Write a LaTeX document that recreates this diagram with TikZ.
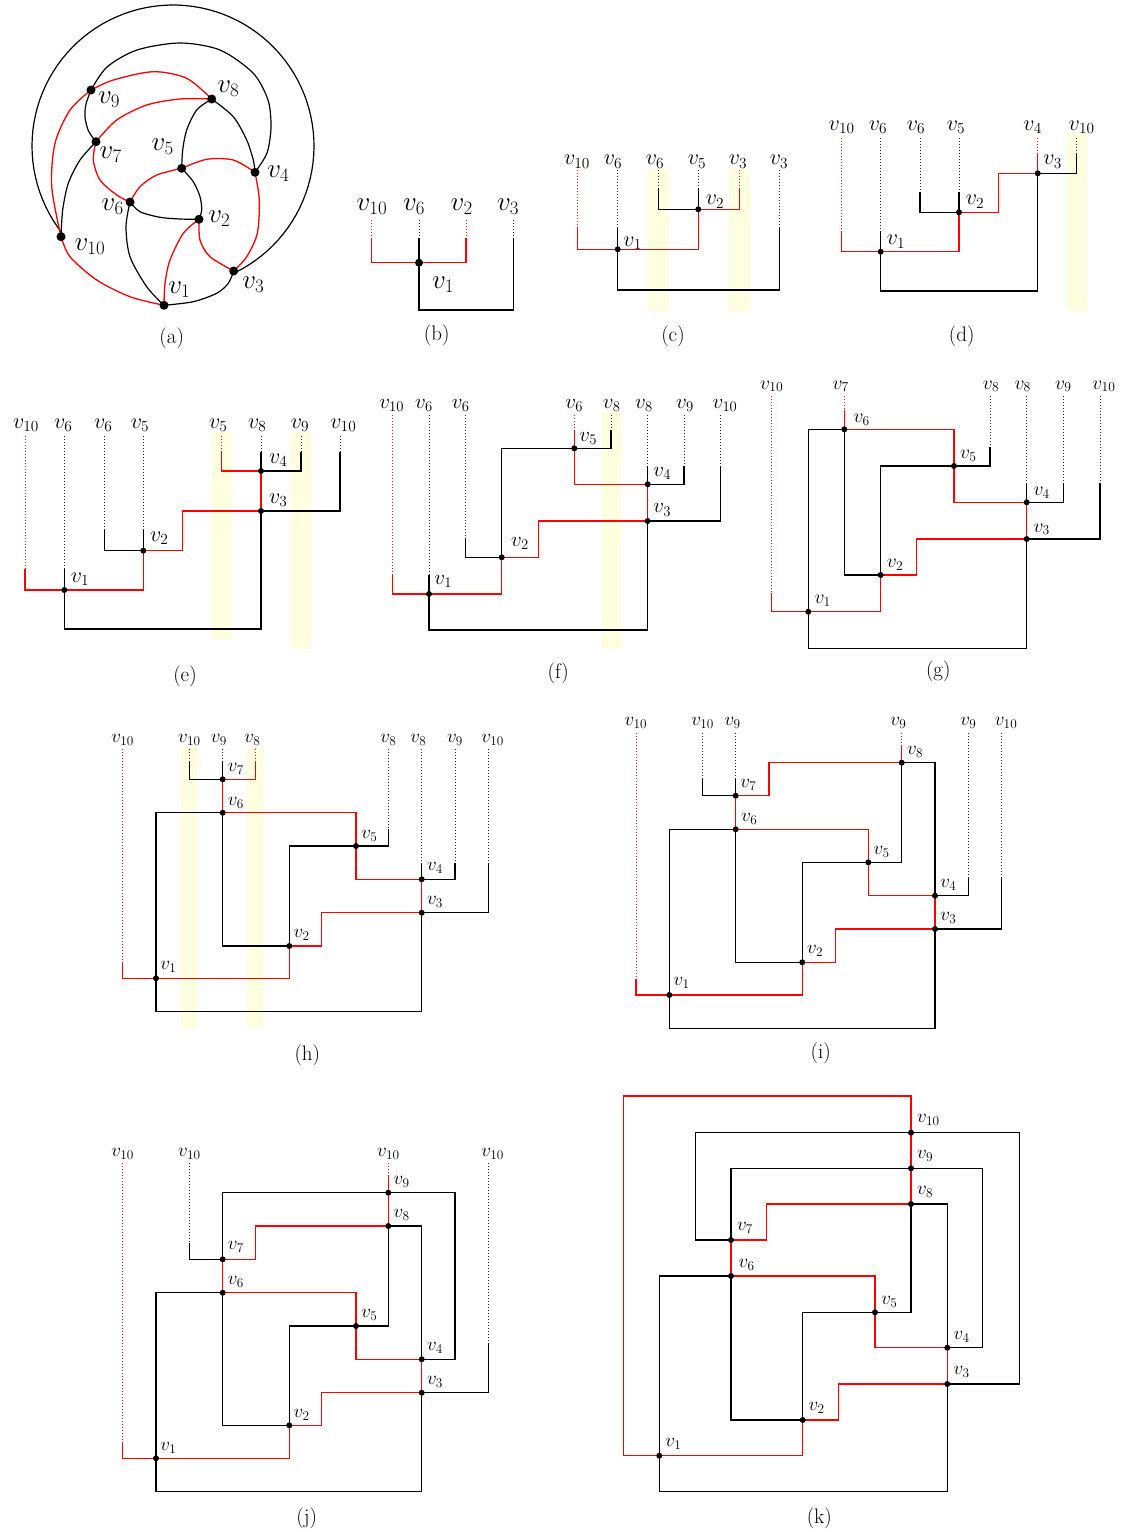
\documentclass[tikz,border=0pt]{standalone}
\usepackage{fix-cm}
\pgfdeclarelayer{hlayer}
\pgfdeclarelayer{elayer}
\pgfsetlayers{hlayer,elayer,main}
\newcommand\fz[1]{\fontsize{#1}{#1}\selectfont}
\tikzset{
  ek/.style={line width=1.2pt, black},
  er/.style={line width=1.3pt, red},
  dk/.style={line width=0.9pt, black!85, dash pattern=on 1pt off 2pt},
  dr/.style={line width=1pt, red, dash pattern=on 1pt off 2pt},
  vtx/.style={circle, fill=black, inner sep=0pt, minimum size=#1},
  vtx/.default=6pt,
  lab/.style={inner sep=0pt},
  hl/.style={fill={rgb,255:red,255;green,255;blue,224}},
}
\newcommand\pcol[5]{\coordinate (#1t) at (#2,#3);\coordinate (#1m) at (#2,#4);
  \begin{pgfonlayer}{elayer}\draw[#5] (#1t) -- (#1m);\end{pgfonlayer}}
\newcommand\plab[4]{\node[lab] (#1) at (#2,#3) {$#4$};}
\newcommand\pvx[3]{\node[vtx] (#1) at (#2,#3) {};}
\begin{document}
\begin{tikzpicture}[x=1pt,y=-1pt]
\useasboundingbox (0,0) rectangle (1124,1532);
\begin{pgfonlayer}{hlayer}
\fill[white] (0,0) rectangle (1124,1532);
\end{pgfonlayer}

%% ---------------- (a)
\begin{scope}[font={\fz{27}}]
\node[vtx=9pt] (a1) at (164,305.3) {};
\node[vtx=9pt] (a2) at (199,219.3) {};
\node[vtx=9pt] (a3) at (233.7,271) {};
\node[vtx=9pt] (a4) at (255,172.3) {};
\node[vtx=9pt] (a5) at (181.7,168.3) {};
\node[vtx=9pt] (a6) at (130,202) {};
\node[vtx=9pt] (a7) at (96,141.7) {};
\node[vtx=9pt] (a8) at (211.7,99) {};
\node[vtx=9pt] (a9) at (91,90) {};
\node[vtx=9pt] (a10) at (61,236.7) {};
\plab{aL1}{179.3}{289.3}{v_1}
\plab{aL2}{219.3}{218.3}{v_2}
\plab{aL3}{253.3}{285}{v_3}
\plab{aL4}{278.3}{173.3}{v_4}
\plab{aL5}{162.7}{146.7}{v_5}
\plab{aL6}{112.7}{206.7}{v_6}
\plab{aL7}{110.7}{155}{v_7}
\plab{aL8}{228.3}{88.3}{v_8}
\plab{aL9}{109}{100}{v_9}
\plab{aL10}{90}{246.7}{v_{10}}
\node[lab,font={\fz{21}}] (capa) at (171.7,338.3) {(a)};
\begin{pgfonlayer}{elayer}
\draw[ek] (a10.center) -- plot[domain=142:424,samples=90] ({173+141*cos(\x)},{146+141*sin(\x)}) -- (a3.center);
\draw[ek] plot[smooth] coordinates {(a9.center) (107,67) (137,50) (180,43) (220,50) (253,73) (268,100) (271,127) (267,153) (a4.center)};
\draw[ek] plot[smooth] coordinates {(a9.center) (86,104) (85,117) (88.5,131) (a7.center)};
\draw[ek] plot[smooth] coordinates {(a7.center) (80,160) (68.3,183.3) (62.7,210) (a10.center)};
\draw[ek] plot[smooth] coordinates {(a8.center) (196.7,110) (186.7,130) (182.7,150) (a5.center)};
\draw[ek] plot[smooth] coordinates {(a8.center) (233.3,116.7) (246.7,140) (253.3,160) (a4.center)};
\draw[ek] plot[smooth] coordinates {(a5.center) (193.3,181.7) (200,196.7) (201.7,210) (a2.center)};
\draw[ek] plot[smooth] coordinates {(a6.center) (140,211.7) (160,217.3) (180,219) (a2.center)};
\draw[ek] plot[smooth] coordinates {(a6.center) (126,226.7) (130,256.7) (146.7,286.7) (a1.center)};
\draw[ek] plot[smooth] coordinates {(a1.center) (193.3,301.7) (216.7,293.3) (228.3,283.3) (a3.center)};
\draw[er] plot[smooth] coordinates {(a9.center) (113.3,80) (153.3,71.7) (186.7,78.3) (a8.center)};
\draw[er] plot[smooth] coordinates {(a7.center) (116.7,120) (146.7,105) (180,99) (a8.center)};
\draw[er] plot[smooth] coordinates {(a9.center) (70,110) (55,143.3) (51.7,186.7) (a10.center)};
\draw[er] plot[smooth] coordinates {(a7.center) (93.3,160) (100,180) (116.7,195) (a6.center)};
\draw[er] plot[smooth] coordinates {(a6.center) (140,186.7) (156.7,175) (a5.center)};
\draw[er] plot[smooth] coordinates {(a5.center) (206.7,159.3) (233.3,160) (a4.center)};
\draw[er] plot[smooth] coordinates {(a4.center) (259.3,200) (257.3,233.3) (246.7,256.7) (a3.center)};
\draw[er] plot[smooth] coordinates {(a2.center) (200,240) (210,256.7) (a3.center)};
\draw[er] plot[smooth] coordinates {(a2.center) (183.3,233.3) (170,260) (165,283.3) (a1.center)};
\draw[er] plot[smooth] coordinates {(a10.center) (70,256.7) (96.7,280) (130,296.7) (a1.center)};
\end{pgfonlayer}
\end{scope}

%% ---------------- (b)
\begin{scope}[font={\fz{27}}]
\node[vtx=8pt] (b1) at (419,262.7) {};
\pcol{b10}{371.7}{220}{238}{dr}
\pcol{b6}{419}{220}{238}{dk}
\pcol{b2}{466}{220}{238}{dr}
\pcol{b3}{513.3}{220}{238}{dk}
\coordinate (bbot) at (419,310);
\plab{bT10}{372}{207}{v_{10}}
\plab{bT6}{414}{207}{v_6}
\plab{bT2}{461.7}{207}{v_2}
\plab{bT3}{508}{207}{v_3}
\plab{bL1}{443}{285}{v_1}
\node[lab,font={\fz{21}}] (capb) at (436.7,335) {(b)};
\begin{pgfonlayer}{elayer}
\draw[er] (b10m) |- (b1.center) -| (b2m);
\draw[ek] (b6m) -- (b1.center) -- (bbot) -| (b3m);
\end{pgfonlayer}
\end{scope}

%% ---------------- (c)
\begin{scope}[font={\fz{22}}]
\begin{pgfonlayer}{hlayer}
\fill[hl] (647.7,169.3) rectangle (669,310.7);
\fill[hl] (729.3,169.3) rectangle (750,310.7);
\end{pgfonlayer}
\pvx{c1}{617.7}{249.3}
\pvx{c2}{698.3}{209.3}
\pcol{c10}{577.3}{170}{228}{dr}
\pcol{c6}{617.7}{170}{228}{dk}
\pcol{c6b}{658.3}{170}{188}{dk}
\pcol{c5}{698.3}{170}{188}{dk}
\pcol{c3}{739.3}{170}{188}{dr}
\pcol{c3b}{779.3}{170}{228}{dk}
\coordinate (cbot) at (617.7,290);
\plab{cT10}{577}{161.7}{v_{10}}
\plab{cT6}{613}{161.7}{v_6}
\plab{cT6b}{655}{161.7}{v_6}
\plab{cT5}{697}{161.7}{v_5}
\plab{cT3}{738}{161.7}{v_3}
\plab{cT3b}{779}{161.7}{v_3}
\plab{cL1}{632.7}{243.3}{v_1}
\plab{cL2}{715}{201.7}{v_2}
\node[lab,font={\fz{21}}] (capc) at (673,336.7) {(c)};
\begin{pgfonlayer}{elayer}
\draw[er] (c10m) |- (c1.center) -| (c2.center);
\draw[er] (c2.center) -| (c3m);
\draw[ek] (c6m) -- (c1.center) -- (cbot) -| (c3bm);
\draw[ek] (c6bm) |- (c2.center);
\draw[ek] (c5m) -- (c2.center);
\end{pgfonlayer}
\end{scope}

%% ---------------- (d)
\begin{scope}[font={\fz{22}}]
\begin{pgfonlayer}{hlayer}
\fill[hl] (1067.3,133.3) rectangle (1086.7,310.7);
\end{pgfonlayer}
\pvx{d1}{880.7}{251.7}
\pvx{d2}{959}{212.3}
\pvx{d3}{1037.7}{173.3}
\pcol{d10}{841.7}{137.7}{231}{dr}
\pcol{d6}{880.7}{137.7}{231}{dk}
\pcol{d6b}{920}{137.7}{191.7}{dk}
\pcol{d5}{959}{137.7}{191.7}{dk}
\pcol{d4}{1037.7}{137.7}{153.3}{dr}
\pcol{d10b}{1076.7}{137.7}{153.3}{dk}
\coordinate (dk1) at (998.3,212.3);
\coordinate (dbot) at (880.7,291);
\plab{dT10}{841.7}{127}{v_{10}}
\plab{dT6}{878}{127}{v_6}
\plab{dT6b}{916}{127}{v_6}
\plab{dT5}{956}{127}{v_5}
\plab{dT4}{1032.7}{127}{v_4}
\plab{dT10b}{1081.7}{127}{v_{10}}
\plab{dL1}{896}{241.7}{v_1}
\plab{dL2}{975}{201.7}{v_2}
\plab{dL3}{1052.7}{161.7}{v_3}
\node[lab,font={\fz{21}}] (capd) at (961.7,336.7) {(d)};
\begin{pgfonlayer}{elayer}
\draw[er] (d10m) |- (d1.center) -| (d2.center);
\draw[er] (d2.center) -- (dk1) |- (d3.center) -- (d4m);
\draw[ek] (d6m) -- (d1.center) -- (dbot) -| (d3.center);
\draw[ek] (d6bm) |- (d2.center);
\draw[ek] (d5m) -- (d2.center);
\draw[ek] (d3.center) -| (d10bm);
\end{pgfonlayer}
\end{scope}

%% ---------------- (e)
\begin{scope}[font={\fz{22}}]
\begin{pgfonlayer}{hlayer}
\fill[hl] (212.3,431.7) rectangle (231.7,639);
\fill[hl] (291,431.7) rectangle (311,649);
\end{pgfonlayer}
\pvx{e1}{64.3}{590}
\pvx{e2}{143.3}{550.7}
\pvx{e3}{261}{511}
\pvx{e4}{261}{471}
\pcol{e10}{25}{436}{569.3}{dr}
\pcol{e6}{64.3}{436}{569.3}{dk}
\pcol{e6b}{104.3}{436}{530}{dk}
\pcol{e5}{143.3}{436}{530}{dk}
\pcol{e5b}{221.7}{436}{451.7}{dr}
\pcol{e8}{261}{436}{451.7}{dk}
\pcol{e9}{301}{436}{451.7}{dk}
\pcol{e10b}{340}{436}{451.7}{dk}
\coordinate (ek1) at (182.3,550.7);
\coordinate (ebot) at (64.3,629);
\plab{eT10}{26}{425.3}{v_{10}}
\plab{eT6}{63.3}{425.3}{v_6}
\plab{eT6b}{103.3}{425.3}{v_6}
\plab{eT5}{140}{425.3}{v_5}
\plab{eT5b}{218.3}{425.3}{v_5}
\plab{eT8}{257.3}{425.3}{v_8}
\plab{eT9}{300}{425.3}{v_9}
\plab{eT10b}{343.3}{425.3}{v_{10}}
\plab{eL1}{80}{579}{v_1}
\plab{eL2}{159.3}{538.3}{v_2}
\plab{eL3}{278.3}{500}{v_3}
\plab{eL4}{278.3}{460}{v_4}
\node[lab,font={\fz{21}}] (cape) at (185,676.7) {(e)};
\begin{pgfonlayer}{elayer}
\draw[er] (e10m) |- (e1.center) -| (e2.center);
\draw[er] (e2.center) -- (ek1) |- (e3.center) -- (e4.center);
\draw[er] (e5bm) |- (e4.center);
\draw[ek] (e6m) -- (e1.center) -- (ebot) -| (e3.center);
\draw[ek] (e6bm) |- (e2.center);
\draw[ek] (e5m) -- (e2.center);
\draw[ek] (e8m) -- (e4.center) -| (e9m);
\draw[ek] (e3.center) -| (e10bm);
\end{pgfonlayer}
\end{scope}

%% ---------------- (f)
\begin{scope}[font={\fz{21}}]
\begin{pgfonlayer}{hlayer}
\fill[hl] (602.3,411.7) rectangle (620.7,648.3);
\end{pgfonlayer}
\pvx{f1}{429}{594}
\pvx{f2}{501.7}{557.3}
\pvx{f3}{647.7}{521}
\pvx{f4}{647.7}{484.3}
\pvx{f5}{574.3}{448.3}
\pcol{f10}{392.3}{415}{575}{dr}
\pcol{f6}{429}{415}{575}{dk}
\pcol{f6b}{465.7}{415}{538.3}{dk}
\pcol{f6c}{574.3}{415}{430}{dr}
\pcol{f8}{611}{415}{430}{dk}
\pcol{f8b}{647.7}{415}{466}{dk}
\pcol{f9}{684}{415}{466}{dk}
\pcol{f10b}{720.7}{415}{466}{dk}
\coordinate (fk1) at (538.3,557.3);
\coordinate (fbot) at (429,630);
\plab{fT10}{391.7}{405.5}{v_{10}}
\plab{fT6}{424}{405.5}{v_6}
\plab{fT6b}{460.7}{405.5}{v_6}
\plab{fT6c}{574.3}{405.5}{v_6}
\plab{fT8}{611.7}{405.5}{v_8}
\plab{fT8b}{644}{405.5}{v_8}
\plab{fT9}{685}{405.5}{v_9}
\plab{fT10b}{725}{405.5}{v_{10}}
\plab{fL1}{443.3}{581.7}{v_1}
\plab{fL2}{520}{543.3}{v_2}
\plab{fL3}{662.3}{510}{v_3}
\plab{fL4}{662.3}{473.3}{v_4}
\plab{fL5}{588.3}{438.3}{v_5}
\node[lab,font={\fz{21}}] (capf) at (558.3,673.3) {(f)};
\begin{pgfonlayer}{elayer}
\draw[er] (f10m) |- (f1.center) -| (f2.center);
\draw[er] (f2.center) -- (fk1) |- (f3.center) -- (f4.center);
\draw[er] (f6cm) -- (f5.center) |- (f4.center);
\draw[ek] (f6m) -- (f1.center) -- (fbot) -| (f3.center);
\draw[ek] (f6bm) |- (f2.center) |- (f5.center) -| (f8m);
\draw[ek] (f8bm) -- (f4.center) -| (f9m);
\draw[ek] (f3.center) -| (f10bm);
\end{pgfonlayer}
\end{scope}

%% ---------------- (g)
\begin{scope}[font={\fz{19.5}}]
\pvx{g1}{808.3}{611.7}
\pvx{g2}{880.7}{575}
\pvx{g3}{1026.7}{539}
\pvx{g4}{1026.7}{502.3}
\pvx{g5}{954}{466}
\pvx{g6}{844.3}{429.3}
\pcol{g10}{771.7}{396}{592.7}{dr}
\pcol{g7}{844.3}{396}{410}{dr}
\pcol{g8}{990}{396}{447.3}{dk}
\pcol{g8b}{1026.7}{396}{483.3}{dk}
\pcol{g9}{1063.3}{396}{483.3}{dk}
\pcol{g10b}{1100}{396}{483.3}{dk}
\coordinate (gk1) at (916.7,575);
\coordinate (gbot) at (808.3,648.3);
\plab{gT10}{771.7}{386.3}{v_{10}}
\plab{gT7}{840.7}{386.3}{v_7}
\plab{gT8}{991}{386.3}{v_8}
\plab{gT8b}{1022.7}{386.3}{v_8}
\plab{gT9}{1063.3}{386.3}{v_9}
\plab{gT10b}{1104}{386.3}{v_{10}}
\plab{gL1}{822.7}{600.7}{v_1}
\plab{gL2}{895}{565}{v_2}
\plab{gL3}{1041.7}{529.3}{v_3}
\plab{gL4}{1041.7}{492.7}{v_4}
\plab{gL5}{968.3}{456}{v_5}
\plab{gL6}{861.7}{420}{v_6}
\node[lab,font={\fz{21}}] (capg) at (938.3,671.7) {(g)};
\begin{pgfonlayer}{elayer}
\draw[er] (g10m) |- (g1.center) -| (g2.center);
\draw[er] (g2.center) -- (gk1) |- (g3.center) -- (g4.center);
\draw[er] (g7m) -- (g6.center) -| (g5.center) |- (g4.center);
\draw[ek] (g1.center) |- (g6.center) |- (g2.center) |- (g5.center) -| (g8m);
\draw[ek] (g1.center) -- (gbot) -| (g3.center);
\draw[ek] (g8bm) -- (g4.center) -| (g9m);
\draw[ek] (g3.center) -| (g10bm);
\end{pgfonlayer}
\end{scope}

%% ---------------- (h)
\begin{scope}[font={\fz{19}}]
\begin{pgfonlayer}{hlayer}
\fill[hl] (181,746.7) rectangle (197.3,1028.3);
\fill[hl] (247.3,746.7) rectangle (263.3,1028.3);
\end{pgfonlayer}
\pvx{h1}{156}{978.3}
\pvx{h2}{289.3}{946}
\pvx{h3}{421.7}{912.7}
\pvx{h4}{421.7}{879.3}
\pvx{h5}{356}{846}
\pvx{h6}{222.7}{812.7}
\pvx{h7}{222.7}{779.3}
\pcol{h10}{122.7}{749.3}{961.7}{dr}
\pcol{h10b}{189.3}{749.3}{761.7}{dk}
\pcol{h9}{222.7}{749.3}{761.7}{dk}
\pcol{h8}{255.7}{749.3}{761.7}{dr}
\pcol{h8b}{388.3}{749.3}{829.3}{dk}
\pcol{h8c}{421.7}{749.3}{862.7}{dk}
\pcol{h9b}{455}{749.3}{862.7}{dk}
\pcol{h10c}{488.3}{749.3}{862.7}{dk}
\coordinate (hk1) at (321.7,946);
\coordinate (hbot) at (156,1011.7);
\plab{hT10}{122.7}{740}{v_{10}}
\plab{hT10b}{189.3}{740}{v_{10}}
\plab{hT9}{219}{740}{v_9}
\plab{hT8}{252.3}{740}{v_8}
\plab{hT8b}{388.3}{740}{v_8}
\plab{hT8c}{418.3}{740}{v_8}
\plab{hT9b}{455}{740}{v_9}
\plab{hT10c}{492.7}{740}{v_{10}}
\plab{hL1}{168.3}{967.3}{v_1}
\plab{hL2}{301.7}{935}{v_2}
\plab{hL3}{435}{901.7}{v_3}
\plab{hL4}{435}{868.3}{v_4}
\plab{hL5}{369.3}{836}{v_5}
\plab{hL6}{236}{803.3}{v_6}
\plab{hL7}{236}{769.3}{v_7}
\node[lab,font={\fz{21}}] (caph) at (307.3,1055) {(h)};
\begin{pgfonlayer}{elayer}
\draw[er] (h10m) |- (h1.center) -| (h2.center);
\draw[er] (h2.center) -- (hk1) |- (h3.center) -- (h4.center);
\draw[er] (h8m) |- (h7.center) -- (h6.center) -| (h5.center) |- (h4.center);
\draw[ek] (h10bm) |- (h7.center);
\draw[ek] (h9m) -- (h7.center);
\draw[ek] (h1.center) |- (h6.center) |- (h2.center) |- (h5.center) -| (h8bm);
\draw[ek] (h1.center) -- (hbot) -| (h3.center);
\draw[ek] (h8cm) -- (h4.center) -| (h9bm);
\draw[ek] (h3.center) -| (h10cm);
\end{pgfonlayer}
\end{scope}

%% ---------------- (i)
\begin{scope}[font={\fz{19}}]
\pvx{i1}{669.3}{995}
\pvx{i2}{802.3}{962.3}
\pvx{i3}{935}{929}
\pvx{i4}{935}{895.7}
\pvx{i5}{868.3}{862.3}
\pvx{i6}{735.7}{829.3}
\pvx{i7}{735.7}{795.7}
\pvx{i8}{901.7}{762.7}
\pcol{i10}{636}{733.3}{979}{dr}
\pcol{i10b}{702.7}{733.3}{779}{dk}
\pcol{i9}{735.7}{733.3}{779}{dk}
\pcol{i9b}{901.7}{733.3}{745.7}{dr}
\pcol{i9c}{968.3}{733.3}{877.7}{dk}
\pcol{i10c}{1001.7}{733.3}{877.7}{dk}
\coordinate (ik1) at (835.7,962.3);
\coordinate (ik2) at (769,795.7);
\coordinate (ibot) at (669.3,1028.3);
\plab{iT10}{636}{723.3}{v_{10}}
\plab{iT10b}{702.7}{723.3}{v_{10}}
\plab{iT9}{732.7}{723.3}{v_9}
\plab{iT9b}{898.3}{723.3}{v_9}
\plab{iT9c}{968.3}{723.3}{v_9}
\plab{iT10c}{1006}{723.3}{v_{10}}
\plab{iL1}{681.7}{983.3}{v_1}
\plab{iL2}{815}{951}{v_2}
\plab{iL3}{948.3}{918.3}{v_3}
\plab{iL4}{948.3}{885}{v_4}
\plab{iL5}{881.7}{851.7}{v_5}
\plab{iL6}{749.3}{819}{v_6}
\plab{iL7}{748.3}{785}{v_7}
\plab{iL8}{915}{751.7}{v_8}
\node[lab,font={\fz{21}}] (capi) at (820.7,1053.3) {(i)};
\begin{pgfonlayer}{elayer}
\draw[er] (i10m) |- (i1.center) -| (i2.center);
\draw[er] (i2.center) -- (ik1) |- (i3.center) -- (i4.center);
\draw[er] (i9bm) -- (i8.center) -| (ik2) -- (i7.center) -- (i6.center) -| (i5.center) |- (i4.center);
\draw[ek] (i10bm) |- (i7.center);
\draw[ek] (i9m) -- (i7.center);
\draw[ek] (i1.center) |- (i6.center) |- (i2.center) |- (i5.center) -| (i8.center) -| (i4.center);
\draw[ek] (i9cm) |- (i4.center);
\draw[ek] (i1.center) -- (ibot) -| (i3.center);
\draw[ek] (i3.center) -| (i10cm);
\end{pgfonlayer}
\end{scope}

%% ---------------- (j)
\begin{scope}[font={\fz{19}}]
\pvx{j1}{156}{1458.3}
\pvx{j2}{289.3}{1425.3}
\pvx{j3}{421.7}{1392.7}
\pvx{j4}{421.7}{1359.3}
\pvx{j5}{356}{1326}
\pvx{j6}{222.7}{1292.7}
\pvx{j7}{222.7}{1259.3}
\pvx{j8}{388.3}{1226}
\pvx{j9}{388.3}{1192.7}
\pcol{j10}{122.7}{1163.3}{1441.7}{dr}
\pcol{j10b}{189.3}{1163.3}{1242.7}{dk}
\pcol{j10c}{388.3}{1163.3}{1176}{dr}
\pcol{j10d}{488.3}{1163.3}{1342.7}{dk}
\coordinate (jk1) at (321.7,1425.3);
\coordinate (jk2) at (255.7,1259.3);
\coordinate (jk3) at (455,1192.7);
\coordinate (jbot) at (156,1491.7);
\plab{jT10}{122.7}{1153.7}{v_{10}}
\plab{jT10b}{189.3}{1153.7}{v_{10}}
\plab{jT10c}{388.3}{1153.7}{v_{10}}
\plab{jT10d}{492.7}{1153.7}{v_{10}}
\plab{jL1}{168.3}{1448.3}{v_1}
\plab{jL2}{301.7}{1415}{v_2}
\plab{jL3}{435}{1381.7}{v_3}
\plab{jL4}{435}{1348.3}{v_4}
\plab{jL5}{369.3}{1315}{v_5}
\plab{jL6}{236}{1281.7}{v_6}
\plab{jL7}{236}{1247.3}{v_7}
\plab{jL8}{401.7}{1215}{v_8}
\plab{jL9}{401.7}{1181.7}{v_9}
\node[lab,font={\fz{21}}] (capj) at (306.7,1518.3) {(j)};
\begin{pgfonlayer}{elayer}
\draw[er] (j10m) |- (j1.center) -| (j2.center);
\draw[er] (j2.center) -- (jk1) |- (j3.center) -- (j4.center);
\draw[er] (j10cm) -- (j9.center) -- (j8.center) -| (jk2) -- (j7.center) -- (j6.center) -| (j5.center) |- (j4.center);
\draw[ek] (j10bm) |- (j7.center);
\draw[ek] (j9.center) -| (j7.center);
\draw[ek] (j9.center) -- (jk3) |- (j4.center);
\draw[ek] (j8.center) -| (j4.center);
\draw[ek] (j8.center) |- (j5.center);
\draw[ek] (j1.center) |- (j6.center) |- (j2.center) |- (j5.center);
\draw[ek] (j1.center) -- (jbot) -| (j3.center);
\draw[ek] (j3.center) -| (j10dm);
\end{pgfonlayer}
\end{scope}

%% ---------------- (k)
\begin{scope}[font={\fz{19}}]
\pvx{k1}{659.3}{1455.7}
\pvx{k2}{802.7}{1420}
\pvx{k3}{947.3}{1384}
\pvx{k4}{947.3}{1347.7}
\pvx{k5}{875}{1312.3}
\pvx{k6}{731}{1276}
\pvx{k7}{731}{1240}
\pvx{k8}{911}{1204}
\pvx{k9}{911}{1168.3}
\pvx{k10}{911}{1132.7}
\coordinate (kt) at (911,1096);
\coordinate (kl) at (623.3,1096);
\coordinate (kk3) at (766.7,1204);
\coordinate (kk4) at (838.3,1420);
\coordinate (kk5) at (695.7,1132.7);
\coordinate (kk6) at (1019.3,1132.7);
\coordinate (kk7) at (982.7,1168.3);
\coordinate (kbot) at (659.3,1491.7);
\plab{kL1}{673.3}{1444.3}{v_1}
\plab{kL2}{816.7}{1407.7}{v_2}
\plab{kL3}{961.7}{1371.7}{v_3}
\plab{kL4}{961.7}{1336.7}{v_4}
\plab{kL5}{889.3}{1301.7}{v_5}
\plab{kL6}{746.7}{1265}{v_6}
\plab{kL7}{745}{1228.3}{v_7}
\plab{kL8}{925}{1191.7}{v_8}
\plab{kL9}{925}{1156}{v_9}
\plab{kL10}{928.3}{1120}{v_{10}}
\node[lab,font={\fz{21}}] (capk) at (819.3,1518.3) {(k)};
\begin{pgfonlayer}{elayer}
\draw[er] (k10.center) -- (kt) -- (kl) |- (k1.center) -| (k2.center);
\draw[er] (k2.center) -- (kk4) |- (k3.center) -- (k4.center);
\draw[er] (k10.center) -- (k9.center) -- (k8.center) -- (kk3) |- (k7.center) -- (k6.center) -| (k5.center) |- (k4.center);
\draw[ek] (k10.center) -- (kk5) |- (k7.center);
\draw[ek] (k10.center) -- (kk6) |- (k3.center);
\draw[ek] (k9.center) -| (k7.center);
\draw[ek] (k9.center) -- (kk7) |- (k4.center);
\draw[ek] (k8.center) -| (k4.center);
\draw[ek] (k8.center) |- (k5.center);
\draw[ek] (k1.center) |- (k6.center) |- (k2.center) |- (k5.center);
\draw[ek] (k1.center) -- (kbot) -| (k3.center);
\end{pgfonlayer}
\end{scope}
\end{tikzpicture}
\end{document}
